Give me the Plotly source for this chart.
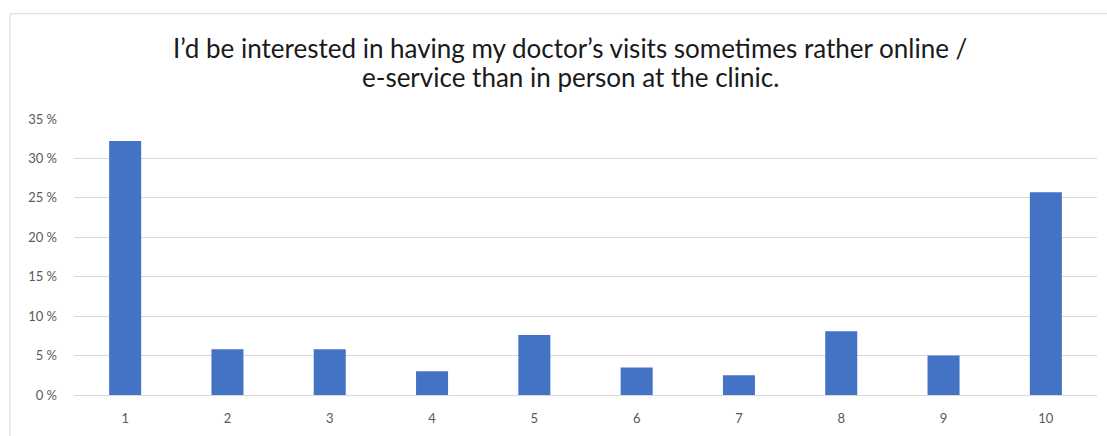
import plotly.graph_objects as go

# Survey answers on a 1–10 scale, share of respondents (%)
categories = ["1", "2", "3", "4", "5", "6", "7", "8", "9", "10"]
shares = [32.2, 5.8, 5.8, 3.0, 7.6, 3.5, 2.5, 8.1, 5.0, 25.7]
y_ticks = [0, 5, 10, 15, 20, 25, 30, 35]
y_tick_labels = ["0 %", "5 %", "10 %", "15 %", "20 %", "25 %", "30 %", "35 %"]
title_lines = [
    "I’d be interested in having my doctor’s visits sometimes rather online /",
    "e-service than in person at the clinic.",
]

W, H = 1107, 436
L, R, T, B = 74, 10, 119, 39
plot_w = W - L - R
plot_h = H - T - B


def px_x(x):
    return (x - L) / plot_w


def px_y(y):
    return (H - B - y) / plot_h


fig = go.Figure(
    go.Bar(
        x=categories,
        y=shares,
        marker=dict(color="#4472C4", line=dict(width=0)),
        hoverinfo="skip",
    )
)

# Title, two centred lines
for text, yc in zip(title_lines, [47, 77]):
    fig.add_annotation(
        text=text,
        xref="paper", yref="paper",
        x=px_x(570), y=px_y(yc),
        xanchor="center", yanchor="middle",
        showarrow=False,
        font=dict(family="Lato", size=26, color="#1a1a1a"),
    )

# Chart frame (top and left edges visible)
frame = dict(color="#d9d9d9", width=1)
fig.add_shape(type="line", xref="paper", yref="paper",
              x0=px_x(10), x1=px_x(W + 5), y0=px_y(13), y1=px_y(13), line=frame)
fig.add_shape(type="line", xref="paper", yref="paper",
              x0=px_x(10), x1=px_x(10), y0=px_y(13), y1=px_y(H + 5), line=frame)

fig.update_layout(
    width=W, height=H,
    margin=dict(l=L, r=R, t=T, b=B, pad=0),
    paper_bgcolor="white",
    plot_bgcolor="white",
    bargap=0.687,
    showlegend=False,
    font=dict(family="Lato", color="#595959", size=13),
)
fig.update_xaxes(
    type="category",
    showgrid=False,
    showline=False,
    ticks="",
    ticklabelstandoff=14,
    tickfont=dict(size=13, color="#595959"),
)
fig.update_yaxes(
    range=[0, 35],
    tickvals=y_ticks,
    ticktext=y_tick_labels,
    showgrid=True,
    gridcolor="#d9d9d9",
    gridwidth=1,
    zeroline=True,
    zerolinecolor="#d9d9d9",
    zerolinewidth=1,
    showline=False,
    ticks="",
    ticklabelstandoff=16,
    tickfont=dict(size=13, color="#595959"),
)

fig.write_html("out.html")
